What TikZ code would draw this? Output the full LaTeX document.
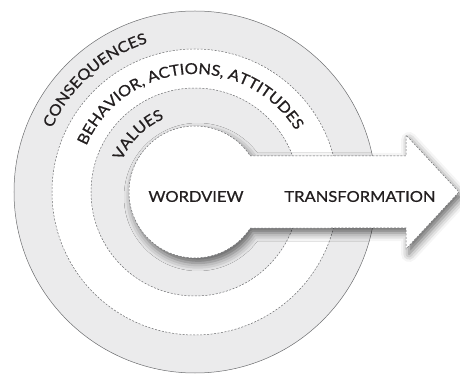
\documentclass[tikz,border=0pt]{standalone}
\usepackage{fontspec}
\setmainfont{Lato}[FakeStretch=1.1, FakeBold=0.7]
\usetikzlibrary{decorations.text,shadows.blur}
\definecolor{ringgray}{HTML}{EBEBEC}
\definecolor{linegray}{HTML}{6D6E70}
\definecolor{txt}{HTML}{231F20}
\begin{document}
\begin{tikzpicture}[x=1pt,y=1pt,
  ringfill/.style={fill=ringgray},
  dashline/.style={draw=linegray, line width=0.5pt, dash pattern=on 2pt off 1.5pt},
  lbl/.style={font=\fontsize{15}{18}\selectfont, text=txt, inner sep=0pt},
  curvelbl/.style={decorate, decoration={text along path, text align=left,
      text={|\color{txt}\fontsize{15}{18}\selectfont|#1}}}
]
\useasboundingbox (-195,-182) rectangle (265,192);
% rings
\path[ringfill, draw=linegray, line width=0.5pt] (0,0) circle[radius=181];
\path[fill=white, dashline] (0,0) circle[radius=143];
\path[ringfill, dashline] (0,0) circle[radius=104];
% curved labels
\path[curvelbl={CONSEQUENCES}] (156:156.5) arc[start angle=156, end angle=20, radius=156.5];
\path[curvelbl={BEHAVIOR, ACTIONS, ATTITUDES}] (157:118) arc[start angle=157, end angle=0, radius=118];
\path[curvelbl={VALUES}] (157:79.5) arc[start angle=157, end angle=40, radius=79.5];
% worldview circle + arrow
\path[fill=white, dashline, blur shadow={shadow xshift=3pt, shadow yshift=-5pt, shadow blur radius=8pt, shadow opacity=60}]
  (-33.06:66) -- (211,-36) -- (211,-57) -- (264,0) -- (211,57) -- (211,36) -- (33.06:66)
  arc[start angle=33.06, end angle=326.94, radius=66] -- cycle;
\node[lbl] (wv) at (1,-4.5) {WORDVIEW};
\node[lbl] (tr) at (165,-4.5) {TRANSFORMATION};
\end{tikzpicture}
\end{document}
